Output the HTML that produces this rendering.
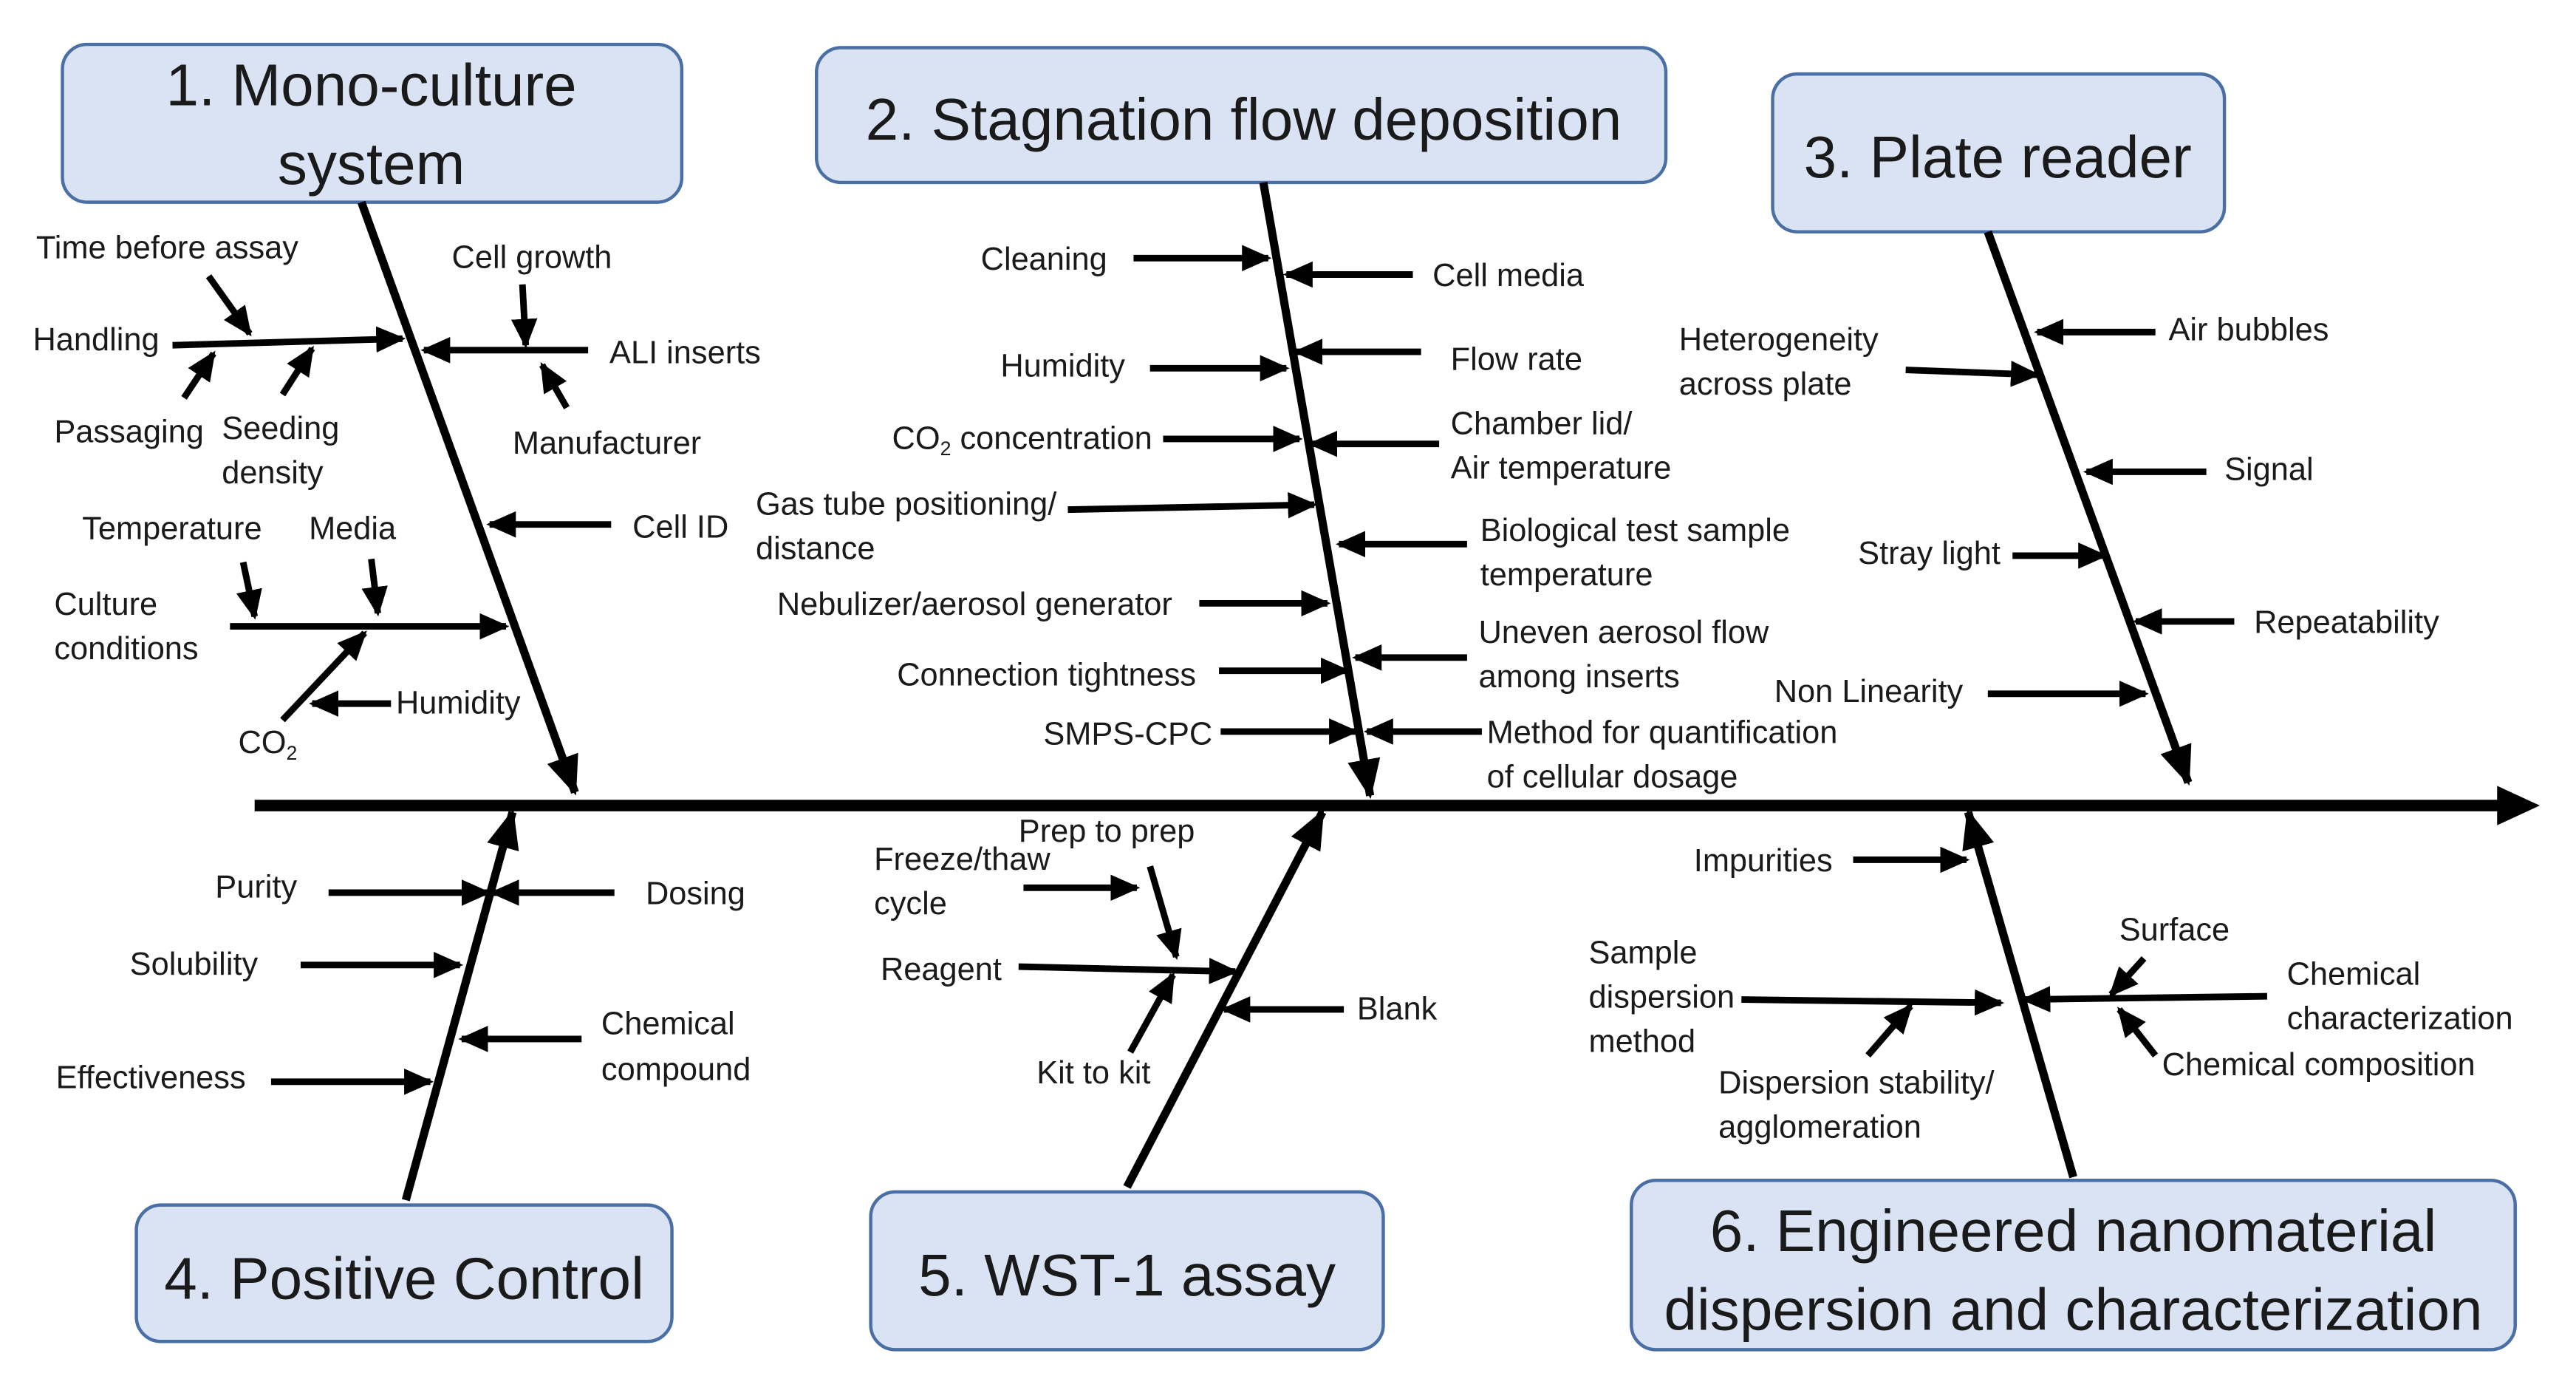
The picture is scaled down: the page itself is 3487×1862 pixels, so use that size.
<!DOCTYPE html>
<html><head><meta charset="utf-8"><style>
html,body{margin:0;padding:0;background:#fff;}
svg{display:block;}
text{font-family:"Liberation Sans",sans-serif;fill:#1a1a1a;}
.s{font-size:19.5px;}
.t{font-size:36px;text-anchor:middle;}
.b{fill:#dae3f3;stroke:#4a6fa5;stroke-width:2;}
.l{stroke:#000;stroke-width:4;fill:none;marker-end:url(#a);}
.bone{stroke:#000;stroke-width:5;fill:none;}
</style></head><body>
<svg width="3487" height="1862" viewBox="0 0 1568 837" preserveAspectRatio="none" xmlns="http://www.w3.org/2000/svg">
<defs>
<marker id="a" markerUnits="userSpaceOnUse" markerWidth="18" markerHeight="16" refX="16" refY="8" orient="auto"><path d="M0,0 L18,8 L0,16 z" fill="#000"/></marker>
<marker id="big" markerUnits="userSpaceOnUse" markerWidth="24" markerHeight="20" refX="22" refY="10" orient="auto"><path d="M0,0 L24,10 L0,20 z" fill="#000"/></marker>
</defs>
<line x1="155" y1="490" x2="1525" y2="490" stroke="#000" stroke-width="7"/>
<path d="M1520,478 L1546,490 L1520,502 z" fill="#000"/>
<rect class="b" x="38" y="27" width="377" height="96" rx="15"/>
<text class="t" x="226" y="64">1. Mono-culture</text>
<text class="t" x="226" y="112">system</text>
<rect class="b" x="497" y="29" width="517" height="82" rx="15"/>
<text class="t" x="757" y="85">2. Stagnation flow deposition</text>
<rect class="b" x="1079" y="45" width="275" height="96" rx="15"/>
<text class="t" x="1216" y="108">3. Plate reader</text>
<rect class="b" x="83" y="733" width="326" height="83" rx="15"/>
<text class="t" x="246" y="790">4. Positive Control</text>
<rect class="b" x="530" y="725" width="312" height="96" rx="15"/>
<text class="t" x="686" y="788">5. WST-1 assay</text>
<rect class="b" x="993" y="718" width="538" height="103" rx="15"/>
<text class="t" x="1262" y="761">6. Engineered nanomaterial</text>
<text class="t" x="1262" y="809">dispersion and characterization</text>
<line class="bone" x1="220" y1="123" x2="350" y2="482" marker-end="url(#big)"/>
<line class="bone" x1="769" y1="111" x2="834" y2="484" marker-end="url(#big)"/>
<line class="bone" x1="1210" y1="141" x2="1332" y2="476" marker-end="url(#big)"/>
<line class="bone" x1="247" y1="730" x2="312" y2="494" marker-end="url(#big)"/>
<line class="bone" x1="686" y1="722" x2="805" y2="494" marker-end="url(#big)"/>
<line class="bone" x1="1262" y1="716" x2="1198" y2="494" marker-end="url(#big)"/>
<line class="l" x1="105" y1="210" x2="245" y2="206"/>
<line class="l" x1="127" y1="168" x2="152" y2="203"/>
<line class="l" x1="112" y1="242" x2="130" y2="215"/>
<line class="l" x1="172" y1="240" x2="190" y2="212"/>
<line class="l" x1="358" y1="213" x2="258" y2="213"/>
<line class="l" x1="318" y1="173" x2="320" y2="210"/>
<line class="l" x1="345" y1="248" x2="330" y2="222"/>
<line class="l" x1="372" y1="319" x2="298" y2="319"/>
<line class="l" x1="140" y1="381" x2="308" y2="381"/>
<line class="l" x1="148" y1="342" x2="155" y2="375"/>
<line class="l" x1="226" y1="340" x2="230" y2="373"/>
<line class="l" x1="172" y1="438" x2="222" y2="385"/>
<line class="l" x1="238" y1="428" x2="190" y2="428"/>
<text class="s" x="22" y="157">Time before assay</text>
<text class="s" x="20" y="213">Handling</text>
<text class="s" x="275" y="163">Cell growth</text>
<text class="s" x="371" y="221">ALI inserts</text>
<text class="s" x="33" y="269">Passaging</text>
<text class="s" x="135" y="267">Seeding</text>
<text class="s" x="135" y="294">density</text>
<text class="s" x="312" y="276">Manufacturer</text>
<text class="s" x="50" y="328">Temperature</text>
<text class="s" x="188" y="328">Media</text>
<text class="s" x="385" y="327">Cell ID</text>
<text class="s" x="33" y="374">Culture</text>
<text class="s" x="33" y="401">conditions</text>
<text class="s" x="241" y="434">Humidity</text>
<text class="s" x="145" y="458">CO<tspan font-size="12" dy="4">2</tspan></text>
<line class="l" x1="690" y1="157" x2="772" y2="157"/>
<line class="l" x1="860" y1="167" x2="783" y2="167"/>
<line class="l" x1="700" y1="224" x2="783" y2="224"/>
<line class="l" x1="865" y1="214" x2="789" y2="214"/>
<line class="l" x1="708" y1="267" x2="791" y2="267"/>
<line class="l" x1="876" y1="270" x2="798" y2="270"/>
<line class="l" x1="650" y1="310" x2="800" y2="307"/>
<line class="l" x1="893" y1="331" x2="815" y2="331"/>
<line class="l" x1="730" y1="367" x2="808" y2="367"/>
<line class="l" x1="893" y1="400" x2="825" y2="400"/>
<line class="l" x1="742" y1="408" x2="820" y2="408"/>
<line class="l" x1="743" y1="445" x2="825" y2="445"/>
<line class="l" x1="902" y1="445" x2="832" y2="445"/>
<text class="s" x="597" y="164">Cleaning</text>
<text class="s" x="872" y="174">Cell media</text>
<text class="s" x="609" y="229">Humidity</text>
<text class="s" x="883" y="225">Flow rate</text>
<text class="s" x="543" y="273">CO<tspan font-size="12" dy="4">2</tspan><tspan dy="-4"> concentration</tspan></text>
<text class="s" x="883" y="264">Chamber lid/</text>
<text class="s" x="883" y="291">Air temperature</text>
<text class="s" x="460" y="313">Gas tube positioning/</text>
<text class="s" x="460" y="340">distance</text>
<text class="s" x="901" y="329">Biological test sample</text>
<text class="s" x="901" y="356">temperature</text>
<text class="s" x="473" y="374">Nebulizer/aerosol generator</text>
<text class="s" x="900" y="391">Uneven aerosol flow</text>
<text class="s" x="900" y="418">among inserts</text>
<text class="s" x="546" y="417">Connection tightness</text>
<text class="s" x="738" y="453" text-anchor="end">SMPS-CPC</text>
<text class="s" x="905" y="452">Method for quantification</text>
<text class="s" x="905" y="479">of cellular dosage</text>
<line class="l" x1="1312" y1="202" x2="1240" y2="202"/>
<line class="l" x1="1160" y1="225" x2="1240" y2="228"/>
<line class="l" x1="1343" y1="287" x2="1270" y2="287"/>
<line class="l" x1="1225" y1="338" x2="1281" y2="338"/>
<line class="l" x1="1360" y1="378" x2="1300" y2="378"/>
<line class="l" x1="1210" y1="422" x2="1306" y2="422"/>
<text class="s" x="1320" y="207">Air bubbles</text>
<text class="s" x="1022" y="213">Heterogeneity</text>
<text class="s" x="1022" y="240">across plate</text>
<text class="s" x="1354" y="292">Signal</text>
<text class="s" x="1131" y="343">Stray light</text>
<text class="s" x="1372" y="385">Repeatability</text>
<text class="s" x="1080" y="427">Non Linearity</text>
<line class="l" x1="200" y1="543" x2="297" y2="543"/>
<line class="l" x1="374" y1="543" x2="300" y2="543"/>
<line class="l" x1="183" y1="587" x2="280" y2="587"/>
<line class="l" x1="354" y1="632" x2="281" y2="632"/>
<line class="l" x1="165" y1="658" x2="262" y2="658"/>
<text class="s" x="131" y="546">Purity</text>
<text class="s" x="393" y="550">Dosing</text>
<text class="s" x="79" y="593">Solubility</text>
<text class="s" x="366" y="629">Chemical</text>
<text class="s" x="366" y="657">compound</text>
<text class="s" x="34" y="662">Effectiveness</text>
<line class="l" x1="623" y1="540" x2="692" y2="540"/>
<line class="l" x1="700" y1="527" x2="716" y2="582"/>
<line class="l" x1="620" y1="588" x2="752" y2="591"/>
<line class="l" x1="688" y1="640" x2="714" y2="593"/>
<line class="l" x1="818" y1="614" x2="745" y2="614"/>
<text class="s" x="532" y="529">Freeze/thaw</text>
<text class="s" x="532" y="556">cycle</text>
<text class="s" x="620" y="512">Prep to prep</text>
<text class="s" x="536" y="596">Reagent</text>
<text class="s" x="631" y="659">Kit to kit</text>
<text class="s" x="826" y="620">Blank</text>
<line class="l" x1="1128" y1="523" x2="1197" y2="523"/>
<line class="l" x1="1060" y1="608" x2="1218" y2="610"/>
<line class="l" x1="1137" y1="642" x2="1163" y2="612"/>
<line class="l" x1="1305" y1="583" x2="1285" y2="605"/>
<line class="l" x1="1380" y1="606" x2="1232" y2="608"/>
<line class="l" x1="1312" y1="642" x2="1290" y2="614"/>
<text class="s" x="1031" y="530">Impurities</text>
<text class="s" x="967" y="586">Sample</text>
<text class="s" x="967" y="613">dispersion</text>
<text class="s" x="967" y="640">method</text>
<text class="s" x="1046" y="665">Dispersion stability/</text>
<text class="s" x="1046" y="692">agglomeration</text>
<text class="s" x="1290" y="572">Surface</text>
<text class="s" x="1392" y="599">Chemical</text>
<text class="s" x="1392" y="626">characterization</text>
<text class="s" x="1316" y="654">Chemical composition</text>
</svg>
</body></html>
